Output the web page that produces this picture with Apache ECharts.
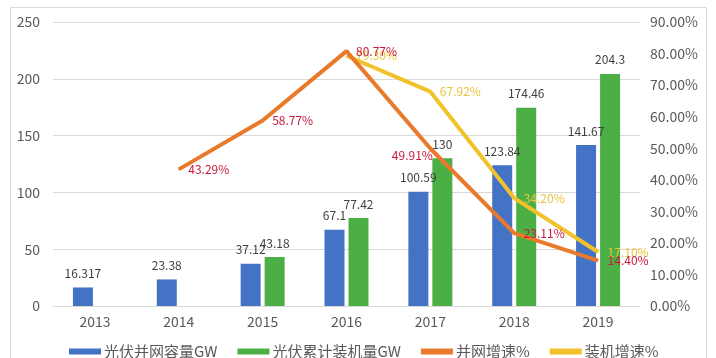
<!DOCTYPE html>
<html>
<head>
<meta charset="utf-8">
<script src="https://cdn.jsdelivr.net/npm/echarts@6/dist/echarts.min.js"></script>
<style>html,body{margin:0;padding:0;background:#fff}#c{width:716px;height:358px}</style>
</head>
<body>
<div id="c"></div>
<script>
var categories = ['2013', '2014', '2015', '2016', '2017', '2018', '2019'];
var gridCapacity = [16.317, 23.38, 37.12, 67.1, 100.59, 123.84, 141.67];
var cumulativeInstalled = [null, null, 43.18, 77.42, 130, 174.46, 204.3];
var gridGrowth = [null, 43.29, 58.77, 80.77, 49.91, 23.11, 14.40];
var installGrowth = [null, null, null, 79.30, 67.92, 34.20, 17.10];
var seriesNames = ['光伏并网容量GW', '光伏累计装机量GW', '并网增速%', '装机增速%'];

var FONT = '"Noto Sans CJK SC", "Noto Sans", sans-serif';
var chart = echarts.init(document.getElementById('c'));

function lineData(arr, leftIdx) {
  return arr.map(function (v, i) {
    if (v === null) return null;
    var d = { value: v };
    if (leftIdx.indexOf(i) >= 0) d.label = { position: 'left', offset: [12, 7] };
    return d;
  });
}

chart.setOption({
  animation: false,
  textStyle: { fontFamily: FONT },
  graphic: [{
    type: 'rect', left: 8, top: 5,
    shape: { width: 696, height: 360 },
    style: { fill: 'none', stroke: '#d9d9d9', lineWidth: 1 },
    silent: true
  }],
  grid: { left: 53, right: 76, top: 22, bottom: 52 },
  legend: {
    left: 64, top: 339,
    itemWidth: 32, itemHeight: 6, itemGap: 20,
    textStyle: { fontSize: 15, color: '#595959', fontFamily: FONT, padding: [0, 0, 0, -2] },
    data: [
      { name: seriesNames[0], icon: 'rect' },
      { name: seriesNames[1], icon: 'rect' },
      { name: seriesNames[2], icon: 'rect' },
      { name: seriesNames[3], icon: 'rect' }
    ]
  },
  xAxis: {
    type: 'category', data: categories,
    axisLine: { show: true, lineStyle: { color: '#d9d9d9' } },
    axisTick: { show: false },
    axisLabel: { color: '#595959', fontSize: 14, margin: 9 }
  },
  yAxis: [{
    type: 'value', min: 0, max: 250, interval: 50,
    axisLine: { show: false }, axisTick: { show: false },
    axisLabel: { color: '#595959', fontSize: 14, margin: 13 },
    splitLine: { lineStyle: { color: '#d9d9d9' } }
  }, {
    type: 'value', min: 0, max: 90, interval: 10,
    axisLine: { show: false }, axisTick: { show: false },
    axisLabel: { color: '#595959', fontSize: 14, margin: 10,
      formatter: function (v) { return v.toFixed(2) + '%'; } },
    splitLine: { show: false }
  }],
  series: [{
    name: seriesNames[0], type: 'bar', data: gridCapacity,
    barWidth: 20, barGap: '20%',
    itemStyle: { color: '#4472C4' },
    label: { show: true, position: 'top', distance: 8, color: '#404040', fontSize: 12 }
  }, {
    name: seriesNames[1], type: 'bar', data: cumulativeInstalled,
    barWidth: 20,
    itemStyle: { color: '#4CAF45' },
    label: { show: true, position: 'top', distance: 8, color: '#404040', fontSize: 12 }
  }, {
    name: seriesNames[2], type: 'line', yAxisIndex: 1,
    data: lineData(gridGrowth, [4]),
    symbol: 'circle', symbolSize: 1, z: 5,
    lineStyle: { color: '#E97A2B', width: 4 },
    itemStyle: { color: '#E97A2B' },
    label: { show: true, position: 'right', distance: 9, color: '#C8193C', fontSize: 12,
      formatter: function (p) { return p.value.toFixed(2) + '%'; } }
  }, {
    name: seriesNames[3], type: 'line', yAxisIndex: 1,
    data: lineData(installGrowth, []),
    symbol: 'circle', symbolSize: 1, z: 4,
    lineStyle: { color: '#F2C22A', width: 4 },
    itemStyle: { color: '#F2C22A' },
    label: { show: true, position: 'right', distance: 9, color: '#EBC43E', fontSize: 12,
      formatter: function (p) { return p.value.toFixed(2) + '%'; } }
  }]
});
</script>
</body>
</html>
